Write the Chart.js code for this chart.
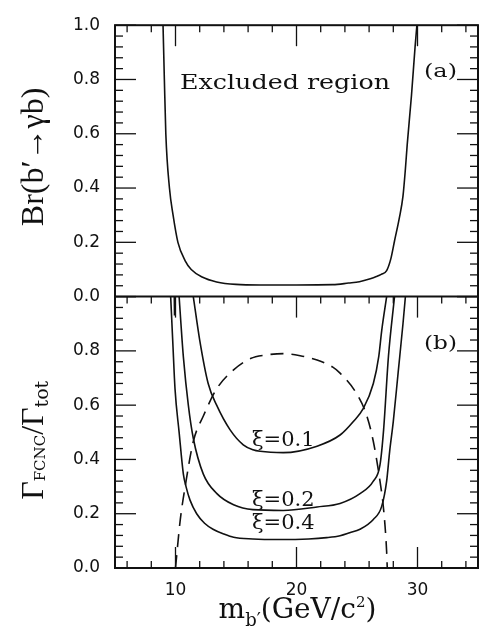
<!DOCTYPE html>
<html>
<head>
<meta charset="utf-8">
<script src="https://cdn.jsdelivr.net/npm/chart.js@4.4.0/dist/chart.umd.min.js"></script>
<style>
  body { margin: 0; background: #fff; }
  canvas { display: block; }
</style>
</head>
<body>
<canvas id="chart" width="480" height="632"></canvas>
<script>
// panel (a): Br(b' -> gamma b) exclusion boundary
const aX = [8.97, 9.08, 9.2, 9.5, 9.8, 10.2, 10.8, 11.3, 12.2, 13.4, 15.0, 17.0, 20.0, 23.0, 24.3, 25.2, 26.1, 26.6, 27.0, 27.45, 27.8, 28.1, 28.5, 28.8, 29.0, 29.15, 29.5, 29.8, 29.95];
const aY = [1.0, 0.8, 0.6, 0.4, 0.3, 0.2, 0.132, 0.1, 0.072, 0.054, 0.045, 0.043, 0.043, 0.044, 0.05, 0.055, 0.066, 0.074, 0.082, 0.096, 0.14, 0.205, 0.29, 0.37, 0.47, 0.56, 0.74, 0.92, 1.0];

// panel (b): xi = 0.1, 0.2, 0.4
const xi1X = [11.47, 12.0, 12.7, 13.4, 14.5, 15.6, 16.4, 17.0, 18.9, 21.7, 23.6, 24.7, 25.5, 26.35, 26.8, 27.04, 27.45];
const xi1Y = [1.0, 0.84, 0.68, 0.6, 0.51, 0.454, 0.436, 0.43, 0.425, 0.449, 0.49, 0.54, 0.586, 0.68, 0.78, 0.874, 1.0];

const xi2X = [10.3, 10.45, 10.65, 11.06, 11.47, 12.3, 13.4, 14.8, 16.4, 18.9, 21.7, 23.6, 25.25, 26.35, 26.9, 27.2, 27.6, 28.1];
const xi2Y = [1.0, 0.9, 0.778, 0.6, 0.478, 0.346, 0.275, 0.233, 0.215, 0.212, 0.225, 0.238, 0.274, 0.32, 0.38, 0.51, 0.78, 1.0];

const xi4X = [9.6, 9.77, 9.96, 10.3, 10.65, 10.87, 11.2, 11.75, 12.4, 13.1, 14.0, 14.8, 16.4, 18.5, 21.0, 22.5, 23.6, 24.4, 25.25, 26.35, 27.04, 27.45, 27.7, 28.0, 28.4, 28.8, 29.0];
const xi4Y = [1.0, 0.838, 0.66, 0.5, 0.346, 0.3, 0.25, 0.2, 0.165, 0.143, 0.125, 0.113, 0.107, 0.105, 0.107, 0.112, 0.119, 0.13, 0.143, 0.179, 0.227, 0.32, 0.43, 0.54, 0.72, 0.9, 1.0];

// dashed curve
const dashX = [10.0, 10.4, 10.8, 11.47, 12.3, 13.4, 14.8, 16.2, 17.5, 18.9, 20.3, 21.7, 23.0, 23.6, 25.0, 25.8, 26.35, 26.9, 27.2, 27.45, 27.5];
const dashY = [0.0, 0.18, 0.3, 0.466, 0.56, 0.66, 0.73, 0.772, 0.785, 0.79, 0.782, 0.766, 0.74, 0.718, 0.64, 0.562, 0.466, 0.32, 0.215, 0.06, 0.0];

// short mark at the top of panel (b) near 10 GeV
const stubX = [9.9, 9.92];
const stubY = [1.0, 0.93];

// axes
const xMajor = [10, 20, 30];
const xMinor = [6, 8, 12, 14, 16, 18, 22, 24, 26, 28, 32, 34];
const yMajor = [0, 0.2, 0.4, 0.6, 0.8, 1.0];
const yMinor = [0.04, 0.08, 0.12, 0.16, 0.24, 0.28, 0.32, 0.36, 0.44, 0.48, 0.52, 0.56, 0.64, 0.68, 0.72, 0.76, 0.84, 0.88, 0.92, 0.96];
const yLabelsA = [0, 0.2, 0.4, 0.6, 0.8, 1.0];
const yLabelsB = [0, 0.2, 0.4, 0.6, 0.8];

const pts = (xs, ys) => xs.map((x, i) => ({ x: x, y: ys[i] }));
const INK = '#111';

function line(data, axis, dash) {
    return {
        data: data,
        yAxisID: axis,
        borderColor: INK,
        borderWidth: 1.6,
        borderDash: dash || [],
        pointRadius: 0,
        showLine: true,
        fill: false,
        cubicInterpolationMode: 'monotone'
    };
}

function drawParts(ctx, parts, cx, baseY) {
    let total = 0;
    parts.forEach(p => { ctx.font = p.font; p.w = ctx.measureText(p.t).width; total += p.w; });
    let x = cx - total / 2;
    parts.forEach(p => {
        ctx.font = p.font;
        ctx.fillText(p.t, x, baseY + (p.dy || 0));
        x += p.w;
    });
}

// draws text stretched sideways to a given width (typewriter look)
function wideText(ctx, t, font, left, base, width) {
    ctx.save();
    ctx.font = font;
    ctx.textAlign = 'left';
    const k = width / ctx.measureText(t).width;
    ctx.translate(left, base);
    ctx.scale(k, 1);
    ctx.fillText(t, 0, 0);
    ctx.restore();
}

const framePlugin = {
    id: 'frame',
    afterDatasetsDraw(chart) {
        const { ctx, chartArea } = chart;
        const x = chart.scales.x, ya = chart.scales.ya, yb = chart.scales.yb;
        ctx.save();
        ctx.strokeStyle = INK;
        ctx.fillStyle = INK;
        ctx.lineWidth = 2;
        ctx.strokeRect(chartArea.left, chartArea.top, chartArea.width, chartArea.height);
        ctx.beginPath();
        ctx.moveTo(chartArea.left, ya.bottom);
        ctx.lineTo(chartArea.right, ya.bottom);
        ctx.stroke();

        ctx.lineWidth = 1.3;
        const tick = (x1, y1, x2, y2) => {
            ctx.beginPath(); ctx.moveTo(x1, y1); ctx.lineTo(x2, y2); ctx.stroke();
        };
        [[xMajor, 21], [xMinor, 7]].forEach(([vals, len]) => vals.forEach(v => {
            const px = x.getPixelForValue(v);
            tick(px, ya.top, px, ya.top + len);
            tick(px, yb.top, px, yb.top + len);
            tick(px, yb.bottom, px, yb.bottom - len);
        }));
        [ya, yb].forEach(s => {
            [[yMajor, 21], [yMinor, 8]].forEach(([vals, len]) => vals.forEach(v => {
                const py = s.getPixelForValue(v);
                tick(chartArea.left, py, chartArea.left + len, py);
                tick(chartArea.right, py, chartArea.right - len, py);
            }));
        });

        // in-plot labels
        ctx.textBaseline = 'alphabetic';
        wideText(ctx, 'Excluded region', '20px "DejaVu Serif"', x.getPixelForValue(10.37), ya.getPixelForValue(0.766), 210);
        wideText(ctx, '(a)', '19px "DejaVu Serif"', chartArea.right - 54, ya.getPixelForValue(0.8) - 2, 33);
        wideText(ctx, '(b)', '19px "DejaVu Serif"', chartArea.right - 54, yb.getPixelForValue(0.8) - 2, 33);

        ctx.textAlign = 'left';
        ctx.font = '21px "DejaVu Serif"';
        ctx.fillText('\u03BE=0.1', x.getPixelForValue(16.32), yb.getPixelForValue(0.45));
        ctx.fillText('\u03BE=0.2', x.getPixelForValue(16.32), yb.getPixelForValue(0.227));
        ctx.fillText('\u03BE=0.4', x.getPixelForValue(16.32), yb.getPixelForValue(0.144));

        // axis titles
        const big = '28px "DejaVu Serif"', sub = '18px "DejaVu Serif"', sup = '15px "DejaVu Serif"';
        drawParts(ctx, [
            { t: 'm', font: big },
            { t: 'b\u2032', font: sub, dy: 8 },
            { t: '(GeV/c', font: big },
            { t: '2', font: sup, dy: -11 },
            { t: ')', font: big }
        ], (chartArea.left + chartArea.right) / 2 + 1, 618);

        ctx.save();
        ctx.translate(43, (ya.top + ya.bottom) / 2 - 4);
        ctx.rotate(-Math.PI / 2);
        drawParts(ctx, [{ t: 'Br(b\u2032\u2192\u03B3b)', font: '32px "Liberation Serif"' }], 0, 0);
        ctx.restore();

        ctx.save();
        ctx.translate(43, (yb.top + yb.bottom) / 2 + 8);
        ctx.rotate(-Math.PI / 2);
        drawParts(ctx, [
            { t: '\u0393', font: '32px "Liberation Serif"' },
            { t: 'FCNC', font: '15px "DejaVu Serif"', dy: 2 },
            { t: '/', font: '32px "Liberation Serif"' },
            { t: '\u0393', font: '32px "Liberation Serif"' },
            { t: 'tot', font: '19px "DejaVu Serif"', dy: 5 }
        ], 0, 0);
        ctx.restore();

        ctx.restore();
    }
};

const tickFont = { family: '"DejaVu Sans"', size: 17 };

new Chart(document.getElementById('chart'), {
    type: 'scatter',
    data: {
        datasets: [
            line(pts(aX, aY), 'ya'),
            line(pts(xi1X, xi1Y), 'yb'),
            line(pts(xi2X, xi2Y), 'yb'),
            line(pts(xi4X, xi4Y), 'yb'),
            line(pts(dashX, dashY), 'yb', [13, 8]),
            line(pts(stubX, stubY), 'yb')
        ]
    },
    options: {
        responsive: false,
        animation: false,
        devicePixelRatio: 1,
        layout: { autoPadding: false, padding: { top: 12, right: 2, left: 0, bottom: 0 } },
        plugins: { legend: { display: false }, tooltip: { enabled: false } },
        scales: {
            x: {
                type: 'linear', min: 5, max: 35, position: 'bottom',
                grid: { display: false, drawTicks: false }, border: { display: false },
                afterBuildTicks: s => { s.ticks = xMajor.map(v => ({ value: v })); },
                afterFit: s => { s.height = 64; },
                ticks: { padding: 12, color: INK, font: tickFont, maxRotation: 0 }
            },
            yb: {
                type: 'linear', min: 0, max: 1, position: 'left', stack: 'panels', stackWeight: 1,
                grid: { display: false, drawTicks: false }, border: { display: false },
                afterBuildTicks: s => { s.ticks = yLabelsB.map(v => ({ value: v })); },
                afterFit: s => { s.width = 115; },
                ticks: { padding: 15, color: INK, font: tickFont, callback: v => v.toFixed(1) }
            },
            ya: {
                type: 'linear', min: 0, max: 1, position: 'left', stack: 'panels', stackWeight: 1,
                grid: { display: false, drawTicks: false }, border: { display: false },
                afterBuildTicks: s => { s.ticks = yLabelsA.map(v => ({ value: v })); },
                afterFit: s => { s.width = 115; },
                ticks: { padding: 15, color: INK, font: tickFont, callback: v => v.toFixed(1) }
            }
        }
    },
    plugins: [framePlugin]
});
</script>
</body>
</html>
